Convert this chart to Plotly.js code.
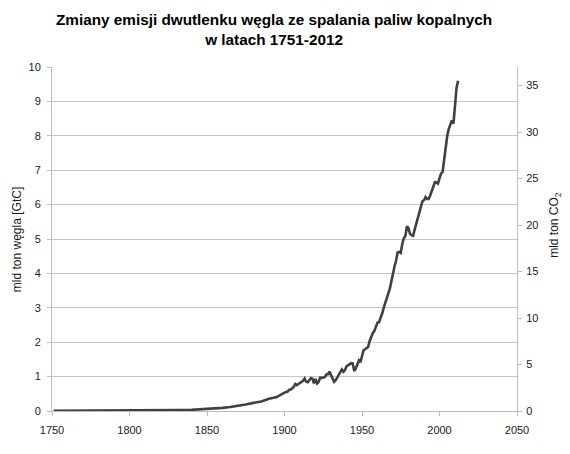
<!DOCTYPE html>
<html>
<head>
<meta charset="utf-8">
<script src="https://cdn.plot.ly/plotly-3.0.1.min.js"></script>
<style>
  html, body { margin: 0; padding: 0; background: #ffffff; }
  #chart { width: 570px; height: 454px; }
</style>
</head>
<body>
<div id="chart"></div>
<script>
// emisje (GtC)
var years = [1751, 1760, 1770, 1780, 1790, 1800, 1810, 1820, 1830, 1840, 1850, 1855, 1860, 1865, 1870, 1875, 1880, 1885, 1890, 1895,
  1900, 1901, 1902, 1903, 1904, 1905, 1906, 1907, 1908, 1909, 1910, 1911, 1912, 1913, 1914, 1915, 1916, 1917, 1918, 1919,
  1920, 1921, 1922, 1923, 1924, 1925, 1926, 1927, 1928, 1929, 1930, 1931, 1932, 1933, 1934, 1935, 1936, 1937, 1938, 1939,
  1940, 1941, 1942, 1943, 1944, 1945, 1946, 1947, 1948, 1949, 1950, 1951, 1952, 1953, 1954, 1955, 1956, 1957, 1958, 1959,
  1960, 1961, 1962, 1963, 1964, 1965, 1966, 1967, 1968, 1969, 1970, 1971, 1972, 1973, 1974, 1975, 1976, 1977, 1978, 1979,
  1980, 1981, 1982, 1983, 1984, 1985, 1986, 1987, 1988, 1989, 1990, 1991, 1992, 1993, 1994, 1995, 1996, 1997, 1998, 1999,
  2000, 2001, 2002, 2003, 2004, 2005, 2006, 2007, 2008, 2009, 2010, 2011, 2012];

var emissions = [0.003, 0.003, 0.004, 0.005, 0.007, 0.008, 0.010, 0.014, 0.024, 0.033, 0.054, 0.070, 0.091, 0.114, 0.147, 0.188, 0.236, 0.275, 0.356, 0.404,
  0.534, 0.552, 0.566, 0.617, 0.624, 0.663, 0.707, 0.784, 0.750, 0.785, 0.819, 0.836, 0.879, 0.943, 0.850, 0.838, 0.901, 0.955, 0.936, 0.806,
  0.932, 0.803, 0.845, 0.970, 0.963, 0.975, 0.983, 1.062, 1.065, 1.145, 1.053, 0.940, 0.847, 0.893, 0.973, 1.027, 1.130, 1.209, 1.142, 1.192,
  1.299, 1.334, 1.342, 1.391, 1.383, 1.160, 1.238, 1.392, 1.469, 1.419, 1.630, 1.767, 1.795, 1.841, 1.865, 2.042, 2.177, 2.270, 2.330, 2.454,
  2.569, 2.580, 2.686, 2.833, 2.995, 3.130, 3.288, 3.393, 3.566, 3.780, 4.053, 4.208, 4.376, 4.614, 4.623, 4.596, 4.864, 5.026, 5.087, 5.369,
  5.315, 5.152, 5.113, 5.094, 5.280, 5.439, 5.607, 5.752, 5.965, 6.097, 6.127, 6.217, 6.164, 6.162, 6.266, 6.398, 6.542, 6.651, 6.643, 6.610,
  6.765, 6.900, 6.950, 7.300, 7.700, 8.000, 8.200, 8.350, 8.450, 8.350, 9.000, 9.400, 9.600];

var xTicks = [1750, 1800, 1850, 1900, 1950, 2000, 2050];
var yTicks = [0, 1, 2, 3, 4, 5, 6, 7, 8, 9, 10];
var y2Ticks = [0, 5, 10, 15, 20, 25, 30, 35];

var chartTitle = 'Zmiany emisji dwutlenku węgla ze spalania paliw kopalnych<br>w latach 1751-2012';
var leftTitle = 'mld ton węgla [GtC]';
var rightTitle = 'mld ton CO<sub>2</sub>';

var fontName = 'Liberation Sans, Arial, sans-serif';
var axisGrey = '#bcbcbc';
var tickFont = { family: fontName, size: 11, color: '#1a1a1a' };

var traces = [
  {
    x: years,
    y: emissions,
    type: 'scatter',
    mode: 'lines',
    line: { color: '#404040', width: 2.6 },
    hoverinfo: 'x+y',
    showlegend: false
  },
  {
    // pusta seria, zeby prawa os byla rysowana
    x: [],
    y: [],
    type: 'scatter',
    mode: 'lines',
    yaxis: 'y2',
    showlegend: false
  }
];

var layout = {
  width: 570,
  height: 454,
  margin: { l: 52, r: 53, t: 67, b: 43 },
  paper_bgcolor: '#ffffff',
  plot_bgcolor: '#ffffff',
  font: { family: fontName, color: '#1a1a1a' },
  showlegend: false,
  xaxis: {
    range: [1750, 2050],
    tickvals: xTicks,
    ticktext: xTicks.map(String),
    showgrid: false,
    zeroline: false,
    showline: true,
    linecolor: axisGrey,
    linewidth: 1,
    ticks: 'outside',
    ticklen: 4,
    tickcolor: axisGrey,
    ticklabelstandoff: 5,
    tickfont: tickFont
  },
  yaxis: {
    range: [0, 10],
    tickvals: yTicks,
    showgrid: true,
    gridcolor: '#c6c6c6',
    gridwidth: 1,
    zeroline: false,
    showline: true,
    linecolor: axisGrey,
    linewidth: 1,
    ticks: 'outside',
    ticklen: 4,
    tickcolor: axisGrey,
    ticklabelstandoff: 4,
    tickfont: tickFont
  },
  yaxis2: {
    range: [0, 37],
    tickvals: y2Ticks,
    overlaying: 'y',
    side: 'right',
    showgrid: false,
    zeroline: false,
    showline: true,
    linecolor: axisGrey,
    linewidth: 1,
    ticks: 'outside',
    ticklen: 4,
    tickcolor: axisGrey,
    ticklabelstandoff: 2,
    tickfont: tickFont
  },
  annotations: [
    {
      text: '<b>' + chartTitle.replace('<br>', '</b><br><b>') + '</b>',
      xref: 'paper', yref: 'paper',
      x: 0.478, y: 1.108,
      xanchor: 'center', yanchor: 'middle',
      align: 'center',
      showarrow: false,
      font: { family: fontName, size: 15.3, color: '#000000' }
    },
    {
      text: leftTitle,
      xref: 'paper', yref: 'paper',
      x: -0.075, y: 0.497,
      xanchor: 'center', yanchor: 'middle',
      textangle: -90,
      showarrow: false,
      font: { family: fontName, size: 12, color: '#1a1a1a' }
    },
    {
      text: rightTitle,
      xref: 'paper', yref: 'paper',
      x: 1.083, y: 0.54,
      xanchor: 'center', yanchor: 'middle',
      textangle: -90,
      showarrow: false,
      font: { family: fontName, size: 12, color: '#1a1a1a' }
    }
  ]
};

Plotly.newPlot('chart', traces, layout, { displayModeBar: false, staticPlot: true });
</script>
</body>
</html>
